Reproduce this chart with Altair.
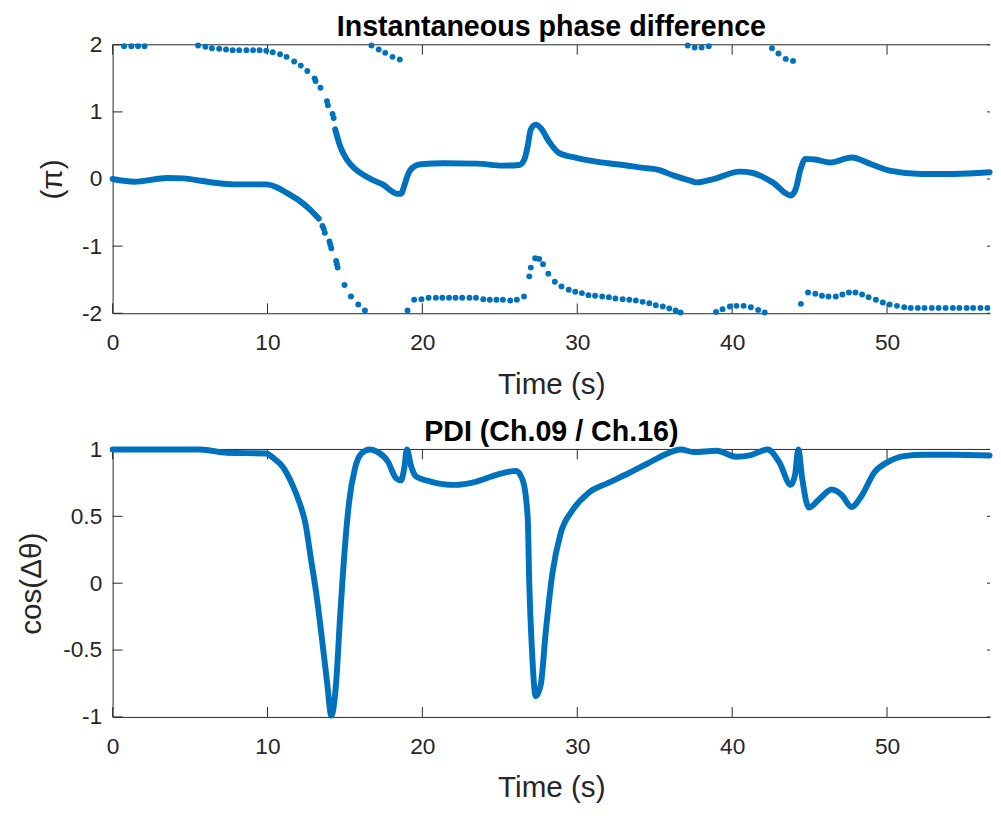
import altair as alt
import pandas as pd

BLUE = "#0072BD"
AX = "#262626"
FONT = "Liberation Sans"
W, H1, H2 = 889, 272, 271

# ---------- titles ----------
title_top = ["Instantaneous phase difference"]
title_bottom = ["PDI (Ch.09 / Ch.16)"]

# ---------- top panel: phase difference (units of pi) ----------
# dense main curve, segment 1 (before wrap near t = 14 s)
main1_t = [0, 1.42, 3.55, 4.6, 5.67, 6.73, 7.79, 8.85, 9.92, 10.55, 11.19, 12.04, 12.68, 13.31]
main1_v = [0.0, -0.04, 0.015, 0.01, -0.025, -0.06, -0.08, -0.08, -0.08, -0.12, -0.2, -0.32, -0.44, -0.59]
# dense main curve, segment 2 (after wrap)
main2_t = [14.37, 14.69, 15.12, 15.65, 16.29, 17.13, 17.35, 18.41, 18.62, 18.83, 19.04, 19.36, 19.89,
           21.38, 23.5, 25.2, 26.26, 26.58, 26.8, 27.0, 27.32, 27.64, 28.17, 28.81, 29.87, 30.94,
           32.0, 33.06, 34.12, 35.18, 36.24, 37.3, 37.73, 38.79, 40.49, 41.34, 42.61, 43.78, 44.1,
           44.42, 44.73, 45.37, 46.33, 47.71, 48.98, 50.25, 52.17, 54.29, 56.62]
main2_v = [0.74, 0.49, 0.29, 0.15, 0.05, -0.05, -0.07, -0.22, -0.22, -0.10, 0.05, 0.17, 0.22,
           0.235, 0.23, 0.2, 0.21, 0.29, 0.49, 0.74, 0.81, 0.76, 0.56, 0.39, 0.32, 0.27,
           0.235, 0.205, 0.17, 0.14, 0.05, -0.025, -0.05, 0.0, 0.11, 0.09, -0.05, -0.245, -0.15,
           0.15, 0.30, 0.29, 0.245, 0.32, 0.22, 0.12, 0.075, 0.075, 0.1]

# sparse (wrapped) samples
dots_t = [0.74, 1.21, 1.64, 2.06,
          5.52, 5.99, 6.41, 6.88, 7.32, 7.75, 8.17, 8.64, 9.07, 9.49, 9.92, 10.34, 10.81, 11.23,
          11.72, 12.15, 12.57, 13.04, 13.1, 13.42, 13.84, 13.9, 14.2, 14.27,
          16.71, 17.18, 17.6, 18.07, 18.54,
          37.13, 37.58, 38.03, 38.49,
          42.57, 42.99, 43.46, 43.93,
          13.55, 13.63, 13.7, 14.0, 14.06, 14.12, 14.43, 14.48, 14.53, 14.97, 15.39, 15.86, 16.29,
          19.04, 19.47, 19.94, 20.4, 20.87, 21.29, 21.72, 22.14, 22.57, 23.04, 23.46, 23.93, 24.35,
          24.78, 25.2, 25.67, 26.1, 26.56,
          26.9, 27.0, 27.28, 27.54, 27.79, 28.13, 28.55, 28.98, 29.45, 29.87, 30.3, 30.72, 31.15,
          31.61, 32.04, 32.46, 32.93, 33.36, 33.78, 34.22, 34.65, 35.07, 35.52, 35.94, 36.35, 36.67,
          38.96, 39.38, 39.85, 40.28, 40.74, 41.21, 41.68, 42.1,
          44.44, 44.9, 45.37, 45.8, 46.22, 46.69, 47.12, 47.54, 47.96, 48.39, 48.81, 49.28, 49.73,
          50.17, 50.64, 51.11, 51.53, 51.99, 52.42, 52.89, 53.33, 53.78, 54.25, 54.67, 55.14, 55.56,
          56.03, 56.48]
dots_v = [1.98, 1.98, 1.98, 1.98,
          1.99, 1.97, 1.95, 1.94, 1.93, 1.92, 1.92, 1.92, 1.92, 1.92, 1.91, 1.89, 1.86, 1.82,
          1.75, 1.69, 1.61, 1.50, 1.46, 1.36, 1.16, 1.10, 0.97, 0.91,
          1.99, 1.93, 1.88, 1.82, 1.78,
          1.99, 1.96, 1.96, 1.98,
          1.95, 1.87, 1.79, 1.76,
          -0.70, -0.74, -0.80, -0.93, -0.98, -1.03, -1.22, -1.27, -1.32, -1.58, -1.75, -1.87, -1.96,
          -1.96, -1.80, -1.79, -1.77, -1.77, -1.77, -1.77, -1.77, -1.77, -1.77, -1.77, -1.79, -1.80,
          -1.80, -1.80, -1.81, -1.80, -1.75,
          -1.45, -1.32, -1.18, -1.19, -1.27, -1.41, -1.53, -1.60, -1.65, -1.68, -1.70, -1.73, -1.74,
          -1.75, -1.76, -1.78, -1.79, -1.80, -1.81, -1.83, -1.85, -1.88, -1.90, -1.93, -1.96, -1.99,
          -1.98, -1.94, -1.90, -1.89, -1.89, -1.91, -1.95, -1.99,
          -1.86, -1.69, -1.71, -1.74, -1.75, -1.75, -1.72, -1.69, -1.69, -1.72, -1.76, -1.80, -1.84,
          -1.87, -1.89, -1.91, -1.92, -1.92, -1.92, -1.92, -1.92, -1.92, -1.92, -1.92, -1.92, -1.92,
          -1.92, -1.92]

# ---------- bottom panel: PDI = cos(dtheta) ----------
pdi_t = [0, 5.67, 7.37, 9.92, 10.34, 10.98, 11.61, 12.04, 12.46, 12.78, 13.2, 13.52, 13.84, 14.12,
         14.42, 14.69, 15.01, 15.27, 15.65, 16.07, 16.6, 17.13, 17.77, 18.3, 18.62, 18.83, 19.0,
         19.26, 19.57, 20.53, 22.02, 23.5, 24.78, 26.05, 26.48, 26.8, 26.9, 27.07, 27.32, 27.64,
         27.96, 28.39, 28.92, 29.66, 30.72, 32.0, 33.27, 34.54, 35.82, 36.67, 37.52, 39.0, 40.28,
         41.13, 42.29, 43.04, 43.78, 44.06, 44.27, 44.52, 44.95, 45.59, 46.43, 47.07, 47.71, 48.34,
         49.19, 50.04, 51.1, 52.38, 54.29, 56.62]
pdi_v = [1.0, 1.0, 0.975, 0.97, 0.94, 0.87, 0.735, 0.61, 0.44, 0.2, -0.12, -0.42, -0.735, -0.99,
         -0.76, -0.245, 0.29, 0.61, 0.86, 0.97, 1.0, 0.98, 0.91, 0.785, 0.77, 0.86, 1.0,
         0.88, 0.8, 0.76, 0.735, 0.76, 0.81, 0.84, 0.77, 0.49, 0.0, -0.49, -0.845, -0.76,
         -0.37, 0.07, 0.37, 0.54, 0.675, 0.75, 0.82, 0.895, 0.97, 1.0, 0.98, 0.99, 0.945,
         0.955, 1.0, 0.905, 0.735, 0.81, 1.0, 0.785, 0.565, 0.625, 0.70, 0.66, 0.57, 0.65,
         0.83, 0.905, 0.95, 0.96, 0.96, 0.955]

x_ticks = [0, 10, 20, 30, 40, 50]
y1_ticks = [-2, -1, 0, 1, 2]
y2_ticks = [-1, -0.5, 0, 0.5, 1]
XMAX = 56.65

LABEL_EXPR = "datum.value < 0 ? '-' + format(-datum.value, '~g') : format(datum.value, '~g')"

# ---------- data frames ----------
top_line = pd.DataFrame({
    "t": main1_t + main2_t,
    "v": main1_v + main2_v,
    "seg": ["a"] * len(main1_t) + ["b"] * len(main2_t),
})
top_dots = pd.DataFrame({"t": dots_t, "v": dots_v})
pdi = pd.DataFrame({"t": pdi_t, "v": pdi_v})
xt = pd.DataFrame({"tx": x_ticks})


def xenc():
    return alt.X("t:Q", scale=alt.Scale(domain=[0, XMAX], nice=False, zero=False),
                 axis=alt.Axis(values=x_ticks, title="Time (s)", labelPadding=19,
                               titlePadding=15, labelExpr=LABEL_EXPR, labelFlush=False))


def frame(H, yt, ydom):
    ytd = pd.DataFrame({"ty": yt})
    ysc = alt.Scale(domain=ydom, nice=False, zero=False)
    bt = alt.Chart(xt).mark_rule(color=AX, strokeWidth=1).encode(
        x=alt.X("tx:Q"), y=alt.value(H), y2=alt.value(H - 10))
    tt = alt.Chart(xt).mark_rule(color=AX, strokeWidth=1).encode(
        x=alt.X("tx:Q"), y=alt.value(0), y2=alt.value(10))
    lt = alt.Chart(ytd).mark_rule(color=AX, strokeWidth=1).encode(
        y=alt.Y("ty:Q", scale=ysc), x=alt.value(0), x2=alt.value(10))
    rt = alt.Chart(ytd).mark_rule(color=AX, strokeWidth=1).encode(
        y=alt.Y("ty:Q", scale=ysc), x=alt.value(W - 3), x2=alt.value(W))
    top_border = alt.Chart(xt.head(1)).mark_rule(color=AX, strokeWidth=1).encode(
        y=alt.value(0), x=alt.value(0), x2=alt.value(W))
    return [bt, tt, lt, rt, top_border]


def title_mark(text_list):
    return alt.Chart(pd.DataFrame({"label": text_list})).mark_text(
        font=FONT, fontSize=29, fontWeight="bold", color="black",
        align="center", baseline="alphabetic").encode(
        text="label:N", x=alt.value(W / 2), y=alt.value(-9))


# top chart
ysc1 = alt.Scale(domain=[-2, 2], nice=False, zero=False)
yax1 = alt.Axis(values=y1_ticks, title="(π)", titleX=-61, titleBaseline="middle",
                labelPadding=11, labelExpr=LABEL_EXPR)
line1 = alt.Chart(top_line).mark_line(color=BLUE, strokeWidth=6, strokeCap="round",
                                      strokeJoin="round", interpolate="monotone").encode(
    x=xenc(), y=alt.Y("v:Q", scale=ysc1, axis=yax1), detail="seg:N")
dots1 = alt.Chart(top_dots).mark_circle(color=BLUE, size=36, opacity=1).encode(
    x=alt.X("t:Q"), y=alt.Y("v:Q", scale=ysc1))
top = alt.layer(*frame(H1, y1_ticks, [-2, 2]), line1, dots1, title_mark(title_top)).properties(
    width=W, height=H1)

# bottom chart
ysc2 = alt.Scale(domain=[-1, 1], nice=False, zero=False)
yax2 = alt.Axis(values=y2_ticks, title="cos(Δθ)", titleX=-82, titleBaseline="middle",
                labelPadding=11, labelExpr=LABEL_EXPR)
line2 = alt.Chart(pdi).mark_line(color=BLUE, strokeWidth=6, strokeCap="round",
                                 strokeJoin="round", interpolate="monotone").encode(
    x=xenc(), y=alt.Y("v:Q", scale=ysc2, axis=yax2))
bottom = alt.layer(*frame(H2, y2_ticks, [-1, 1]), line2, title_mark(title_bottom)).properties(
    width=W, height=H2)

chart = alt.vconcat(top, bottom, spacing=138, bounds="flush").properties(
    padding={"left": 8, "top": 0, "right": 0, "bottom": 0},
    background="white",
).configure_view(stroke=None).configure_axis(
    labelFont=FONT, labelFontSize=23, labelColor=AX,
    titleFont=FONT, titleFontSize=30, titleFontWeight="normal", titleColor=AX,
    domainColor=AX, domainWidth=1, ticks=False, grid=False,
)

chart.save("out.html", embed_options={"renderer": "svg", "actions": False})
